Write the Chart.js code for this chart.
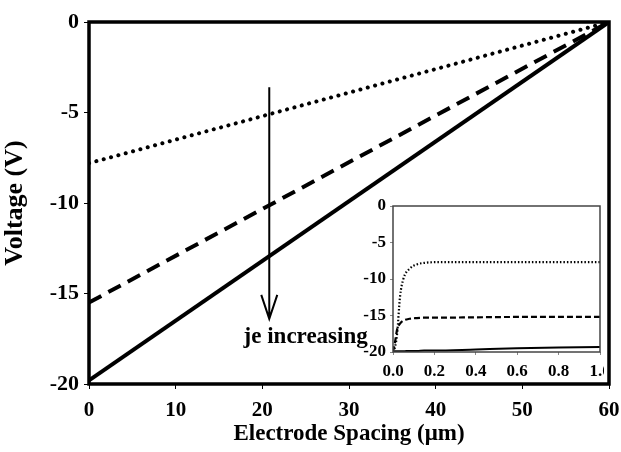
<!DOCTYPE html>
<html>
<head>
<meta charset="utf-8">
<script src="https://cdn.jsdelivr.net/npm/chart.js@4/dist/chart.umd.min.js"></script>
<style>
  body { margin: 0; background: #fff; }
  #wrap { position: relative; width: 621px; height: 452px; }
  #main { position: absolute; left: 0; top: 0; }
  #inset { position: absolute; left: 350px; top: 196px; }
</style>
</head>
<body>
<div id="wrap">
  <canvas id="main" width="621" height="452"></canvas>
  <canvas id="inset" width="254" height="190"></canvas>
</div>
<script>
// main plot: voltage across the gap (straight lines)
const spacing = [0, 60];
const solidV = [-19.8, 0];
const dashedV = [-15.5, 0];
const dottedV = [-7.8, 0];

// arrow + label
const arrowX = 20.8;
const arrowFrom = -3.6;
const arrowTo = -16.4;
const labelText = 'je increasing';
const labelPos = [25.0, -17.4];

// inset: first micron
const insetX = [0, 0.01, 0.02, 0.034, 0.05, 0.08, 0.115, 0.15, 0.2, 0.4, 0.6, 0.8, 1.0];
const insetDotted = [-20, -19.3, -17.5, -12.4, -10.0, -8.6, -8.0, -7.8, -7.7, -7.7, -7.7, -7.7, -7.7];
const insetDashed = [-20, -18.6, -16.9, -16.1, -15.7, -15.45, -15.35, -15.3, -15.3, -15.25, -15.2, -15.2, -15.2];
const insetSolid = [-20, -19.9, -19.9, -19.9, -19.9, -19.85, -19.85, -19.8, -19.8, -19.65, -19.5, -19.4, -19.3];

const serif = 'Liberation Serif';

function pts(xs, ys) {
    return xs.map((x, i) => ({ x, y: ys[i] }));
}

// keep the plot box where the layout padding puts it (labels may overflow)
function noOverflowX(s) { s.paddingLeft = 0; s.paddingRight = 0; }
function noOverflowY(s) { s.paddingTop = 0; s.paddingBottom = 0; }

const frame = {
    id: 'frame',
    afterDatasetsDraw(chart, args, opts) {
        const a = chart.chartArea, ctx = chart.ctx;
        ctx.save();
        ctx.strokeStyle = opts.color;
        ctx.lineWidth = opts.width;
        ctx.strokeRect(a.left, a.top, a.right - a.left, a.bottom - a.top);
        ctx.restore();
    }
};

const arrow = {
    id: 'arrow',
    afterDatasetsDraw(chart) {
        const ctx = chart.ctx, xs = chart.scales.x, ys = chart.scales.y;
        const x = xs.getPixelForValue(arrowX);
        const y1 = ys.getPixelForValue(arrowFrom);
        const y2 = ys.getPixelForValue(arrowTo);
        ctx.save();
        ctx.strokeStyle = '#000';
        ctx.lineWidth = 2;
        ctx.beginPath();
        ctx.moveTo(x, y1);
        ctx.lineTo(x, y2);
        ctx.moveTo(x - 8, y2 - 24);
        ctx.lineTo(x, y2);
        ctx.lineTo(x + 8, y2 - 24);
        ctx.stroke();
        ctx.fillStyle = '#000';
        ctx.font = 'bold 23px "' + serif + '"';
        ctx.textAlign = 'center';
        ctx.textBaseline = 'middle';
        ctx.fillText(labelText, xs.getPixelForValue(labelPos[0]), ys.getPixelForValue(labelPos[1]));
        ctx.restore();
    }
};

const xTickFont = { family: serif, size: 21, weight: 'bold' };
const yTickFont = { family: serif, size: 22, weight: 'bold' };

new Chart(document.getElementById('main'), {
    type: 'scatter',
    data: {
        datasets: [
            { data: pts(spacing, solidV), showLine: true, borderColor: '#000', borderWidth: 4, pointRadius: 0 },
            { data: pts(spacing, dashedV), showLine: true, borderColor: '#000', borderWidth: 4, borderDash: [14, 8], pointRadius: 0 },
            { data: pts(spacing, dottedV), showLine: true, borderColor: '#000', borderWidth: 4, borderDash: [0.1, 7.5], borderCapStyle: 'round', pointRadius: 0 }
        ]
    },
    options: {
        responsive: false,
        animation: false,
        layout: { padding: { top: 22, right: 12, left: 0, bottom: 0 } },
        plugins: { legend: { display: false }, tooltip: { enabled: false }, frame: { color: '#000', width: 3.5 } },
        scales: {
            x: {
                type: 'linear', min: 0, max: 60,
                ticks: { stepSize: 10, color: '#000', font: xTickFont, padding: 9, maxRotation: 0 },
                grid: { drawOnChartArea: false, color: '#000', tickLength: 5, lineWidth: 1 },
                border: { display: false },
                title: { display: true, text: 'Electrode Spacing (\u03bcm)', color: '#000', font: { family: serif, size: 23, weight: 'bold' }, padding: { top: 4 } },
                afterFit(s) { s.height = 68; noOverflowX(s); }
            },
            y: {
                min: -20, max: 0,
                ticks: { stepSize: 5, color: '#000', font: yTickFont, padding: 5 },
                grid: { drawOnChartArea: false, color: '#000', tickLength: 5, lineWidth: 1 },
                border: { display: false },
                title: { display: true, text: 'Voltage (V)', color: '#000', font: { family: serif, size: 26, weight: 'bold' }, padding: { top: 0, bottom: 0 } },
                afterFit(s) { s.width = 89; noOverflowY(s); }
            }
        }
    },
    plugins: [frame, arrow]
});

const insetFont = { family: serif, size: 17, weight: 'bold' };

new Chart(document.getElementById('inset'), {
    type: 'scatter',
    data: {
        datasets: [
            { data: pts(insetX, insetSolid), showLine: true, borderColor: '#000', borderWidth: 2, pointRadius: 0, cubicInterpolationMode: 'monotone' },
            { data: pts(insetX, insetDashed), showLine: true, borderColor: '#000', borderWidth: 2.2, borderDash: [6, 3], pointRadius: 0, cubicInterpolationMode: 'monotone' },
            { data: pts(insetX, insetDotted), showLine: true, borderColor: '#000', borderWidth: 2.2, borderDash: [1.5, 2], pointRadius: 0, cubicInterpolationMode: 'monotone' }
        ]
    },
    options: {
        responsive: false,
        animation: false,
        layout: { padding: { top: 10, right: 4, left: 0, bottom: 0 } },
        plugins: { legend: { display: false }, tooltip: { enabled: false }, frame: { color: '#444', width: 1.5 } },
        scales: {
            x: {
                type: 'linear', min: 0, max: 1,
                ticks: { stepSize: 0.2, color: '#000', font: insetFont, padding: 6, maxRotation: 0, callback: v => v.toFixed(1) },
                grid: { drawOnChartArea: false, color: '#888', tickLength: 3 },
                border: { display: false },
                afterFit(s) { s.height = 34; noOverflowX(s); }
            },
            y: {
                min: -20, max: 0,
                ticks: { stepSize: 5, color: '#000', font: insetFont, padding: 4 },
                grid: { drawOnChartArea: false, color: '#888', tickLength: 3 },
                border: { display: false },
                afterFit(s) { s.width = 43; noOverflowY(s); }
            }
        }
    },
    plugins: [frame]
});
</script>
</body>
</html>
